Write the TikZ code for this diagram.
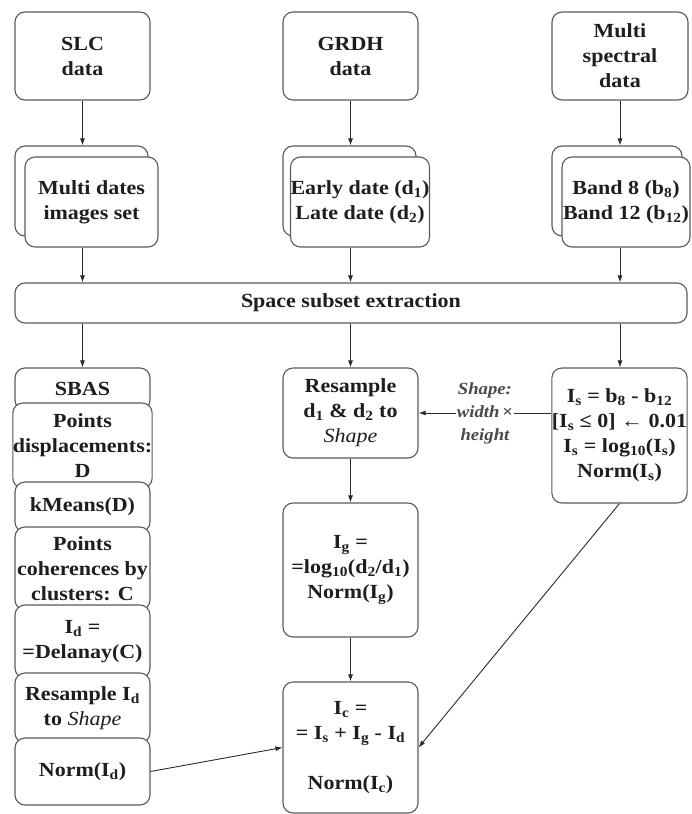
\documentclass[tikz,border=0pt]{standalone}
\usepackage{fontspec}
\setmainfont{Liberation Serif}[FakeStretch=1.1]
\usetikzlibrary{arrows.meta}
\definecolor{boxc}{HTML}{5A5A5A}
\definecolor{arrc}{HTML}{2A2A2A}
\definecolor{txtc}{HTML}{1E1E1E}
\definecolor{lblc}{HTML}{4A4A4A}
\newcommand{\sbs}[1]{\textsubscript{#1}}
\newcommand{\mybox}[6]{\node[box, minimum width={(#4-#2)*1pt}, minimum height={(#5-#3)*1pt}] (#1) at ({(#2+#4)/2},{(#3+#5)/2}) {#6};}
\begin{document}
\begin{tikzpicture}[x=1pt,y=-1pt,
  box/.style={draw=boxc, line width=1.1pt, rounded corners=10pt, fill=white, align=center, inner sep=0pt, font=\bfseries\fontsize{20}{25}\selectfont, text=txtc},
  arr/.style={-{Latex[length=7pt,width=5pt]}, line width=0.9pt, draw=arrc},
  lbl/.style={fill=white, inner sep=1pt, align=center, font=\bfseries\itshape\fontsize{17}{23}\selectfont, text=lblc}]
\useasboundingbox (0,0) rectangle (691,814);
% top row
\mybox{slc}{15}{12}{150}{100}{SLC\\data}
\mybox{grdh}{283}{12}{418}{100}{GRDH\\data}
\mybox{ms}{552}{12}{688}{100}{Multi\\spectral\\data}
% stacks
\mybox{slcB}{15}{146}{148}{236}{}
\mybox{slcF}{25}{157}{158}{247}{Multi dates\\images set}
\mybox{grdhB}{283}{146}{416}{236}{}
\mybox{grdhF}{293}{157}{427}{247}{Early date (d\sbs{1})\\Late date (d\sbs{2})}
\mybox{msB}{552}{146}{682}{236}{}
\mybox{msF}{562}{157}{690}{247}{Band 8 (b\sbs{8})\\Band 12 (b\sbs{12})}
% bar
\mybox{bar}{15}{283}{687}{323}{Space subset extraction}
% left column
\mybox{sbas}{15}{368}{150}{410}{SBAS}
\mybox{disp}{15}{403}{150}{488}{Points\\displacements:\\D}
\mybox{km}{15}{482}{150}{532}{kMeans(D)}
\mybox{coh}{15}{527}{150}{610}{Points\\coherences by\\clusters: C}
\mybox{idl}{15}{605}{150}{678}{I\sbs{d} =\\=Delanay(C)}
\mybox{rsid}{15}{673}{150}{743}{Resample I\sbs{d}\\to {\mdseries\itshape Shape}}
\mybox{nid}{15}{738}{150}{805}{Norm(I\sbs{d})}
% center column
\mybox{rs}{283}{368}{418}{458}{Resample\\d\sbs{1} \& d\sbs{2} to\\{\mdseries\itshape Shape}}
\mybox{ig}{283}{503}{418}{637}{I\sbs{g} =\\=log\sbs{10}(d\sbs{2}/d\sbs{1})\\Norm(I\sbs{g})}
\mybox{ic}{283}{682}{418}{813}{I\sbs{c} =\\= I\sbs{s} + I\sbs{g} - I\sbs{d}\\[25pt]Norm(I\sbs{c})}
% right column
\mybox{is}{552}{368}{687}{503}{I\sbs{s} = b\sbs{8} - b\sbs{12}\\{[}I\sbs{s} ≤ 0{]} ← 0.01\\I\sbs{s} = log\sbs{10}(I\sbs{s})\\Norm(I\sbs{s})}
% arrows top
\draw[arr] (slc.south) -- (slc.south |- slcB.north);
\draw[arr] (grdh.south) -- (grdh.south |- grdhB.north);
\draw[arr] (ms.south) -- (ms.south |- msB.north);
\draw[arr] (slc.south |- slcF.south) -- (slc.south |- bar.north);
\draw[arr] (grdh.south |- grdhF.south) -- (grdh.south |- bar.north);
\draw[arr] (ms.south |- msF.south) -- (ms.south |- bar.north);
% arrows from bar
\draw[arr] (slc.south |- bar.south) -- (sbas.north);
\draw[arr] (grdh.south |- bar.south) -- (rs.north);
\draw[arr] (ms.south |- bar.south) -- (ms.south |- is.north);
% center flow
\draw[arr] (rs.south) -- (ig.north);
\draw[arr] (ig.south) -- (ic.north);
\draw[arr] (is.west |- rs.east) -- node[lbl] {Shape:\\width\,{\upshape ×}\\height} (rs.east);
\draw[arr] (is.south) -- (ic.east);
\draw[arr] (nid.east) -- (ic.west);
\end{tikzpicture}
\end{document}
